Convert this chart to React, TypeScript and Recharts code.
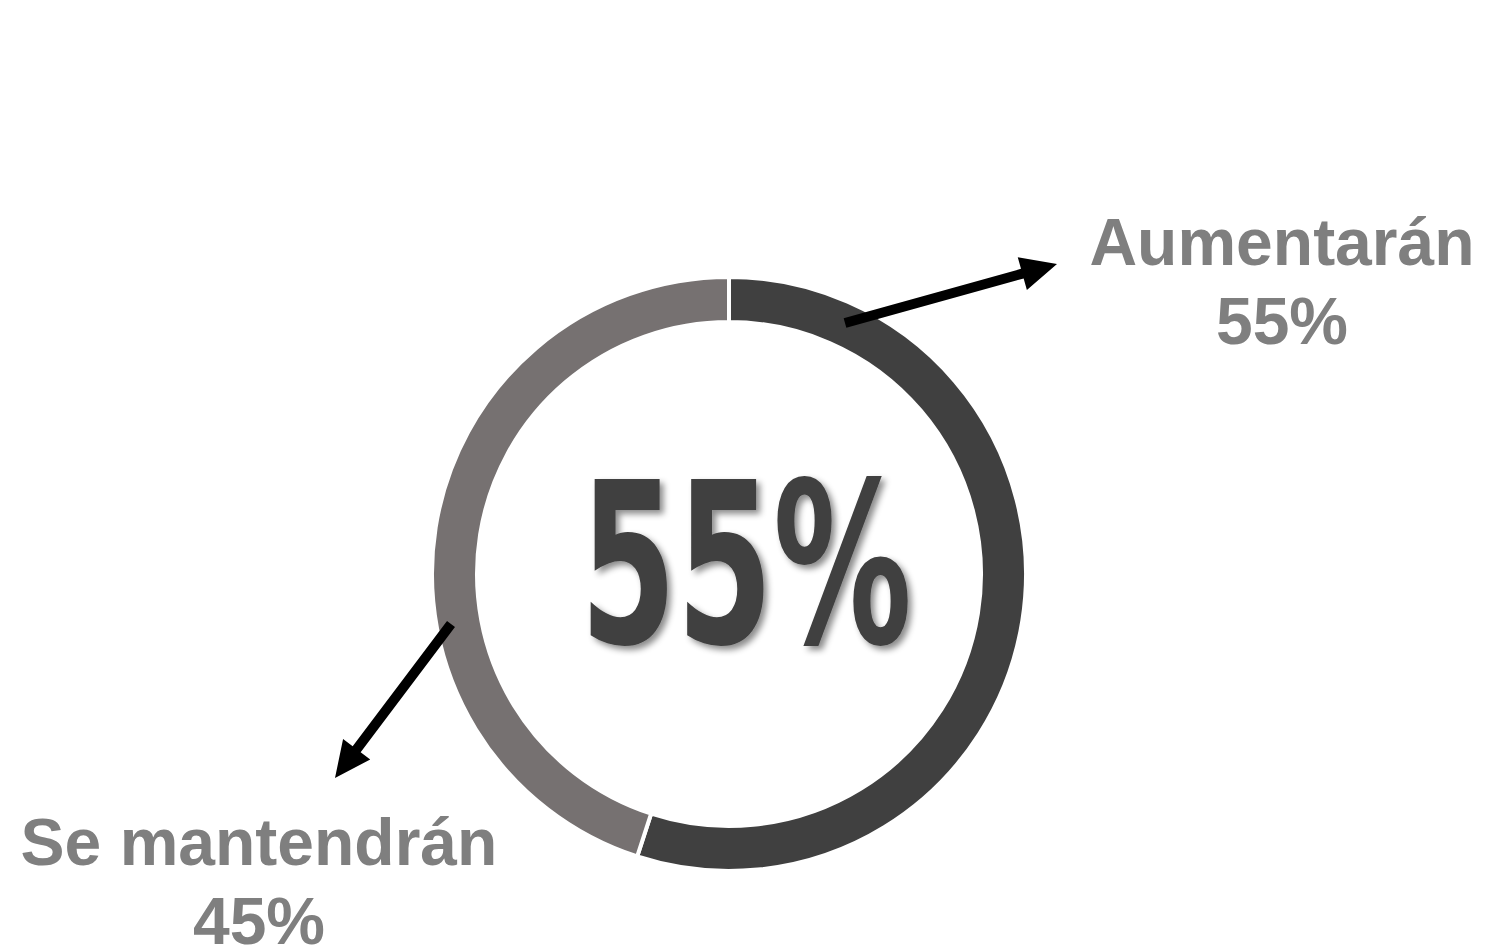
import React from 'react';
import { PieChart, Pie, Cell, Customized } from 'recharts';

// share of answers (percent)
const categories = ['Aumentarán', 'Se mantendrán'];
const shares = [55, 45];
const sliceColors = ['#404040', '#767171'];

const pieData = categories.map((name, i) => ({ name, value: shares[i] }));

const W = 1486;
const H = 949;
const CX = 729;
const CY = 574;

const labelFont = '"Liberation Sans", Arial, sans-serif';

// where each callout sits: arrow start/end and text centre
const callouts = [
  { arrow: [845, 323, 1057, 264], tx: 1282, ty: 265 },
  { arrow: [451, 624, 335, 778], tx: 259, ty: 865 },
];

// arrow as one polygon: shaft + head
function arrowPoints(x1: number, y1: number, x2: number, y2: number, shaft = 10, headLen = 36, headHalf = 17) {
  const dx = x2 - x1;
  const dy = y2 - y1;
  const len = Math.hypot(dx, dy);
  const ux = dx / len;
  const uy = dy / len;
  const px = -uy;
  const py = ux;
  const bx = x2 - ux * headLen;
  const by = y2 - uy * headLen;
  const s = shaft / 2;
  const pts = [
    [x1 + px * s, y1 + py * s],
    [bx + px * s, by + py * s],
    [bx + px * headHalf, by + py * headHalf],
    [x2, y2],
    [bx - px * headHalf, by - py * headHalf],
    [bx - px * s, by - py * s],
    [x1 - px * s, y1 - py * s],
  ];
  return pts.map((p) => p.join(',')).join(' ');
}

function renderCallout(props: any) {
  const i = props.index;
  const c = callouts[i];
  if (!c) return null;
  const [x1, y1, x2, y2] = c.arrow;
  return (
    <g key={`callout-${i}`}>
      <polygon points={arrowPoints(x1, y1, x2, y2)} fill="#000" />
      <text textAnchor="middle" fontFamily={labelFont} fontWeight="bold" fontSize={66} fill="#7f7f7f">
        <tspan x={c.tx} y={c.ty}>{props.name}</tspan>
        <tspan x={c.tx} y={c.ty + 79}>{props.value}%</tspan>
      </text>
    </g>
  );
}

function CenterValue() {
  return (
    <g>
      <defs>
        <filter id="bigShadow" x="-10%" y="-10%" width="130%" height="130%">
          <feDropShadow dx="4" dy="4" stdDeviation="3" floodColor="#000" floodOpacity="0.45" />
        </filter>
      </defs>
      <text
        x={580}
        y={643}
        fontFamily='"Liberation Sans Narrow", "DejaVu Sans Condensed", "Liberation Sans", sans-serif'
        fontWeight="bold"
        fontSize={224}
        fill="#404040"
        textLength={332}
        lengthAdjust="spacingAndGlyphs"
        filter="url(#bigShadow)"
      >
        {shares[0]}%
      </text>
    </g>
  );
}

export default function App() {
  return (
    <div style={{ position: 'absolute', left: 0, top: 0, width: W, height: H, background: '#fff' }}>
      <PieChart width={W} height={H} margin={{ top: 0, right: 0, bottom: 0, left: 0 }}>
        <Pie
          data={pieData}
          dataKey="value"
          nameKey="name"
          cx={CX}
          cy={CY}
          innerRadius={252}
          outerRadius={297}
          startAngle={90}
          endAngle={-270}
          stroke="#fff"
          strokeWidth={4}
          label={renderCallout}
          labelLine={false}
          isAnimationActive={false}
        >
          {pieData.map((d, i) => (
            <Cell key={d.name} fill={sliceColors[i]} />
          ))}
        </Pie>
        <Customized component={CenterValue} />
      </PieChart>
    </div>
  );
}
